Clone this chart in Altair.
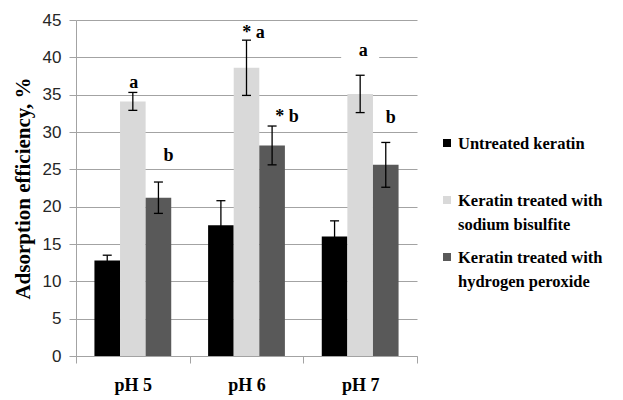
import altair as alt
import pandas as pd

ph = ["pH 5", "pH 6", "pH 7"]
series = ["Untreated keratin",
          "Keratin treated with sodium bisulfite",
          "Keratin treated with hydrogen peroxide"]
untreated = [12.8, 17.5, 16.0]
untreated_err = [0.7, 3.3, 2.1]
bisulfite = [34.1, 38.6, 35.1]
bisulfite_err = [1.2, 3.7, 2.5]
peroxide = [21.2, 28.2, 25.6]
peroxide_err = [2.1, 2.6, 3.0]

label_ph = ["pH 5", "pH 5", "pH 6", "pH 6", "pH 7", "pH 7"]
label_series = [series[1], series[2], series[1], series[2], series[1], series[2]]
label_text = ["a", "b", "* a", "* b", "a", "b"]
label_value = [36.5, 26.8, 43.3, 32.0, 40.9, 31.9]

legend_lines = [["Untreated keratin"],
                ["Keratin treated with", "sodium bisulfite"],
                ["Keratin treated with", "hydrogen peroxide"]]

colors = ["#000000", "#d9d9d9", "#595959"]
label_dx = [1, 10, 7, 15, 3, 5]
SERIF = "Liberation Serif"
SANS = "Liberation Sans"
GRID = "#a3a3a3"

rows = []
for vals, errs, s in [(untreated, untreated_err, series[0]),
                      (bisulfite, bisulfite_err, series[1]),
                      (peroxide, peroxide_err, series[2])]:
    for p, v, e in zip(ph, vals, errs):
        rows.append({"ph": p, "series": s, "value": v, "lo": v - e, "hi": v + e})
df = pd.DataFrame(rows)

labels = pd.DataFrame({"ph": label_ph, "series": label_series,
                       "text": label_text, "value": label_value})

X = alt.X("ph:N", sort=ph, title=None,
          scale=alt.Scale(paddingInner=0, paddingOuter=0),
          axis=alt.Axis(tickBand="extent", labelAngle=0, labelFont=SERIF,
                        labelFontWeight="bold", labelFontSize=18, labelColor="black",
                        labelPadding=13, tickSize=7, tickColor=GRID, domainColor=GRID,
                        grid=False))
XO = alt.XOffset("series:N", sort=series,
                 scale=alt.Scale(domain=series, paddingInner=0, paddingOuter=0.72))
YSCALE = alt.Scale(domain=[0, 45], nice=False)
YAXIS = alt.Axis(values=list(range(0, 46, 5)), title="Adsorption efficiency,  %",
                 titleFont=SERIF, titleFontWeight="bold", titleFontSize=21,
                 titleColor="black", titlePadding=9,
                 labelFont=SANS, labelFontSize=17, labelColor="#262626",
                 labelPadding=8, tickSize=7, tickColor=GRID, domainColor=GRID,
                 grid=True, gridColor=GRID, labelOverlap=False)


def Y(field):
    return alt.Y(field, scale=YSCALE, axis=YAXIS)


base = alt.Chart(df).encode(x=X, xOffset=XO)

bars = base.mark_bar().encode(
    y=Y("value:Q"),
    color=alt.Color("series:N", scale=alt.Scale(domain=series, range=colors), legend=None),
)

rules = base.mark_rule(color="black", strokeWidth=1.3).encode(y=Y("lo:Q"), y2="hi:Q")
cap_hi = base.mark_tick(color="black", size=9, thickness=1.3, opacity=1).encode(y=Y("hi:Q"))
cap_lo = base.mark_tick(color="black", size=9, thickness=1.3, opacity=1).encode(y=Y("lo:Q"))

box = alt.Chart(labels[(labels.ph == "pH 7") & (labels.text == "a")]).transform_calculate(
    lo="datum.value - 1.6", hi="datum.value + 1.6"
).mark_bar(color="white", width=38).encode(
    x=X, xOffset=XO, y=Y("lo:Q"), y2="hi:Q")

layers = [bars, box, rules, cap_hi, cap_lo]

for i in range(len(labels)):
    layers.append(
        alt.Chart(labels.iloc[[i]]).mark_text(
            dx=label_dx[i], font=SERIF, fontWeight="bold", fontSize=18,
            baseline="middle", align="center", color="black"
        ).encode(x=X, xOffset=XO, y=Y("value:Q"), text="text:N")
    )

leg_sym_x = 371
leg_text_x = 382
leg_y = [123, 180, 237]
for i in range(3):
    one = alt.Chart(pd.DataFrame({"s": [series[i]]}))
    layers.append(one.mark_square(size=64, color=colors[i], opacity=1).encode(
        x=alt.value(leg_sym_x), y=alt.value(leg_y[i])))
    layers.append(one.mark_text(
        text=legend_lines[i], font=SERIF, fontWeight="bold", fontSize=16.5,
        lineHeight=24, align="left", baseline="alphabetic", color="black"
    ).encode(x=alt.value(leg_text_x), y=alt.value(leg_y[i] + 5.5)))

chart = alt.layer(*layers).properties(
    width=341, height=336,
    autosize=alt.AutoSizeParams(type="none"),
    padding={"left": 68, "top": 12, "right": 198, "bottom": 43},
).configure_view(stroke=None)

chart.save("out.html", embed_options={"renderer": "svg", "actions": False})
